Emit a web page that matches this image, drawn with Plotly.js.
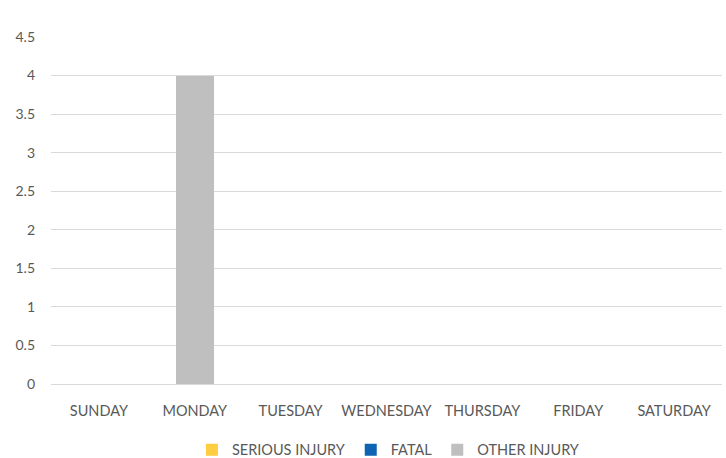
<!DOCTYPE html>
<html><head><meta charset="utf-8">
<script src="https://cdn.plot.ly/plotly-3.0.1.min.js"></script>
<style>html,body{margin:0;padding:0;background:#fff}#chart{width:726px;height:458px}</style>
</head><body><div id="chart"></div>
<script>
const days = ["SUNDAY","MONDAY","TUESDAY","WEDNESDAY","THURSDAY","FRIDAY","SATURDAY"];
const seriousInjury = [0,0,0,0,0,0,0];
const fatal = [0,0,0,0,0,0,0];
const otherInjury = [0,4,0,0,0,0,0];
const yTicks = [0,0.5,1,1.5,2,2.5,3,3.5,4,4.5];

const traces = [
  {type:'bar', name:'SERIOUS INJURY', x:days, y:seriousInjury, marker:{color:'#FFCD41'}},
  {type:'bar', name:'FATAL', x:days, y:fatal, marker:{color:'#0E64B2'}},
  {type:'bar', name:'OTHER INJURY', x:days, y:otherInjury, marker:{color:'#BFBFBF'}}
];
const layout = {
  width:726, height:458,
  margin:{l:51, r:4, t:37, b:74, autoexpand:false},
  paper_bgcolor:'#fff', plot_bgcolor:'#fff',
  font:{family:'Lato, "Open Sans", sans-serif', size:14, color:'#595959'},
  barmode:'stack', bargap:0.6,
  showlegend:true,
  legend:{orientation:'h', xref:'container', yref:'container', x:0.535, xanchor:'center', y:0.018, yanchor:'middle', font:{size:14.5, color:'#595959'}, traceorder:'normal', itemwidth:30},
  xaxis:{automargin:false, showgrid:false, showline:true, linecolor:'#d9d9d9', linewidth:1, ticks:'', tickfont:{size:14.5}, ticklabelstandoff:14, fixedrange:true},
  yaxis:{automargin:false, range:[0,4.5], tickvals:yTicks, ticktext:yTicks.map(String), showgrid:true, gridcolor:'#d9d9d9', gridwidth:1, zeroline:false, showline:false, ticks:'', ticklabelstandoff:15, tickfont:{size:14}}
};
Plotly.newPlot('chart', traces, layout, {displayModeBar:false, staticPlot:true});
</script></body></html>
